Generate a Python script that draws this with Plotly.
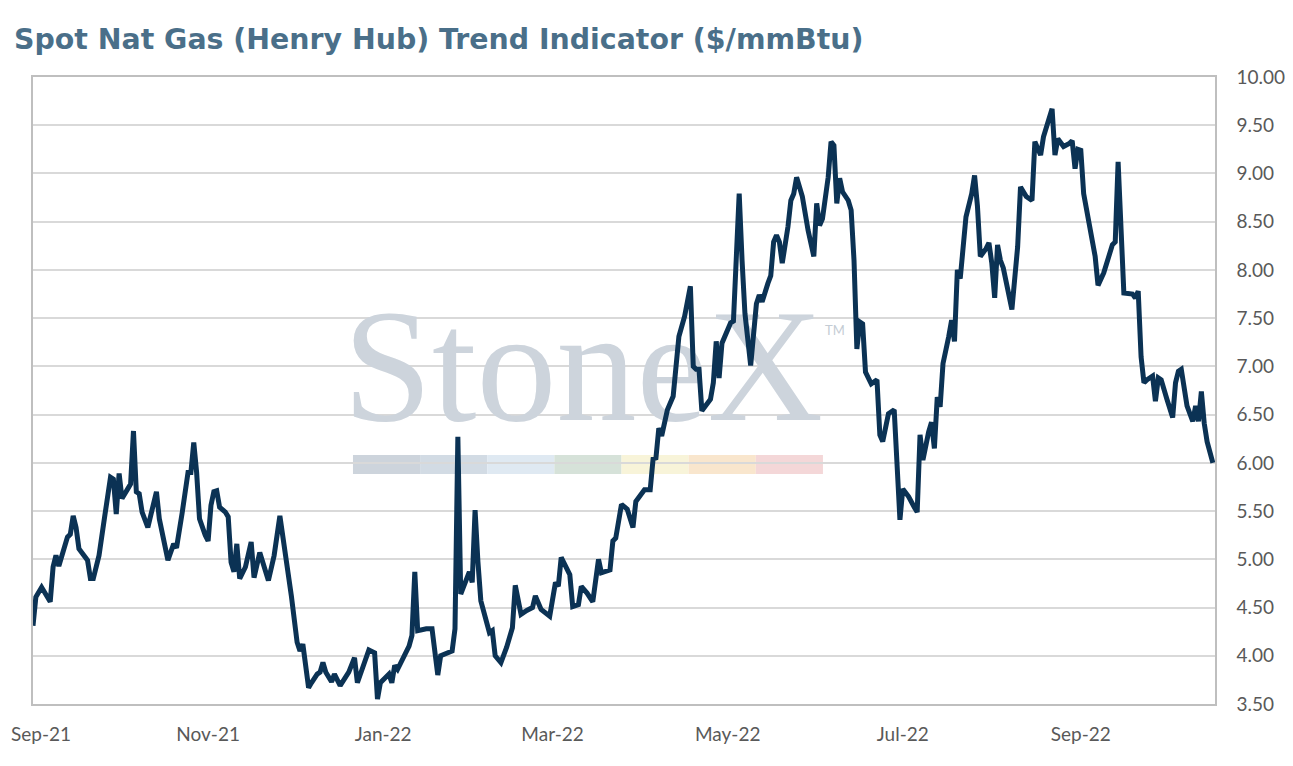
import plotly.graph_objects as go

# Henry Hub spot ($/mmBtu)
dates = [
    "2021-09-01", "2021-09-02", "2021-09-04", "2021-09-07", "2021-09-08", "2021-09-09", "2021-09-10",
    "2021-09-13", "2021-09-14", "2021-09-15", "2021-09-16", "2021-09-17", "2021-09-20", "2021-09-21",
    "2021-09-22", "2021-09-24", "2021-09-26", "2021-09-28", "2021-09-29", "2021-09-30", "2021-10-01",
    "2021-10-02", "2021-10-04", "2021-10-05", "2021-10-06", "2021-10-07", "2021-10-08", "2021-10-09",
    "2021-10-11", "2021-10-13", "2021-10-14", "2021-10-15", "2021-10-17", "2021-10-18", "2021-10-20",
    "2021-10-21", "2021-10-23", "2021-10-25", "2021-10-26", "2021-10-27", "2021-10-28", "2021-10-29",
    "2021-10-31", "2021-11-01", "2021-11-02", "2021-11-03", "2021-11-04", "2021-11-05", "2021-11-07",
    "2021-11-08", "2021-11-09", "2021-11-10", "2021-11-11", "2021-11-12", "2021-11-14", "2021-11-16",
    "2021-11-17", "2021-11-19", "2021-11-22", "2021-11-24", "2021-11-26", "2021-11-28", "2021-11-30",
    "2021-12-02", "2021-12-03", "2021-12-04", "2021-12-06", "2021-12-07", "2021-12-09", "2021-12-10",
    "2021-12-11", "2021-12-12", "2021-12-14", "2021-12-15", "2021-12-17", "2021-12-20", "2021-12-22",
    "2021-12-23", "2021-12-25", "2021-12-27", "2021-12-29", "2021-12-30", "2021-12-31", "2022-01-02",
    "2022-01-03", "2022-01-04", "2022-01-05", "2022-01-06", "2022-01-08", "2022-01-10", "2022-01-11",
    "2022-01-12", "2022-01-13", "2022-01-16", "2022-01-18", "2022-01-20", "2022-01-21", "2022-01-23",
    "2022-01-25", "2022-01-26", "2022-01-27", "2022-01-28", "2022-01-29", "2022-01-31", "2022-02-01",
    "2022-02-02", "2022-02-03", "2022-02-04", "2022-02-07", "2022-02-08", "2022-02-09", "2022-02-11",
    "2022-02-13", "2022-02-15", "2022-02-16", "2022-02-18", "2022-02-20", "2022-02-22", "2022-02-23",
    "2022-02-25", "2022-02-28", "2022-03-02", "2022-03-03", "2022-03-04", "2022-03-07", "2022-03-08",
    "2022-03-10", "2022-03-11", "2022-03-13", "2022-03-15", "2022-03-17", "2022-03-18", "2022-03-21",
    "2022-03-22", "2022-03-23", "2022-03-25", "2022-03-27", "2022-03-29", "2022-03-30", "2022-04-02",
    "2022-04-04", "2022-04-05", "2022-04-06", "2022-04-07", "2022-04-08", "2022-04-10", "2022-04-12",
    "2022-04-14", "2022-04-16", "2022-04-18", "2022-04-19", "2022-04-20", "2022-04-21", "2022-04-22",
    "2022-04-25", "2022-04-26", "2022-04-27", "2022-04-28", "2022-04-29", "2022-05-02", "2022-05-03",
    "2022-05-05", "2022-05-06", "2022-05-07", "2022-05-09", "2022-05-11", "2022-05-12", "2022-05-13",
    "2022-05-15", "2022-05-16", "2022-05-17", "2022-05-18", "2022-05-19", "2022-05-20", "2022-05-22",
    "2022-05-23", "2022-05-24", "2022-05-25", "2022-05-27", "2022-05-29", "2022-05-31", "2022-06-01",
    "2022-06-02", "2022-06-03", "2022-06-05", "2022-06-06", "2022-06-07", "2022-06-08", "2022-06-09",
    "2022-06-10", "2022-06-12", "2022-06-13", "2022-06-14", "2022-06-15", "2022-06-16", "2022-06-17",
    "2022-06-18", "2022-06-19", "2022-06-20", "2022-06-22", "2022-06-23", "2022-06-24", "2022-06-26",
    "2022-06-28", "2022-06-29", "2022-06-30", "2022-07-01", "2022-07-03", "2022-07-05", "2022-07-06",
    "2022-07-07", "2022-07-08", "2022-07-10", "2022-07-11", "2022-07-12", "2022-07-13", "2022-07-14",
    "2022-07-15", "2022-07-17", "2022-07-18", "2022-07-19", "2022-07-20", "2022-07-21", "2022-07-22",
    "2022-07-23", "2022-07-25", "2022-07-26", "2022-07-27", "2022-07-28", "2022-07-30", "2022-07-31",
    "2022-08-01", "2022-08-02", "2022-08-03", "2022-08-04", "2022-08-05", "2022-08-08", "2022-08-10",
    "2022-08-11", "2022-08-13", "2022-08-15", "2022-08-16", "2022-08-17", "2022-08-18", "2022-08-19",
    "2022-08-22", "2022-08-23", "2022-08-24", "2022-08-26", "2022-08-28", "2022-08-29", "2022-08-30",
    "2022-08-31", "2022-09-01", "2022-09-02", "2022-09-04", "2022-09-06", "2022-09-07", "2022-09-09",
    "2022-09-12", "2022-09-13", "2022-09-14", "2022-09-15", "2022-09-16", "2022-09-19", "2022-09-20",
    "2022-09-21", "2022-09-22", "2022-09-23", "2022-09-24", "2022-09-26", "2022-09-27", "2022-09-28",
    "2022-09-29", "2022-10-01", "2022-10-03", "2022-10-04", "2022-10-05", "2022-10-06", "2022-10-07",
    "2022-10-08", "2022-10-10", "2022-10-11", "2022-10-12", "2022-10-13", "2022-10-14", "2022-10-15",
    "2022-10-17",
]

price = [
    4.31, 4.61, 4.71, 4.56, 4.92, 5.04, 4.93,
    5.23, 5.26, 5.45, 5.33, 5.11, 4.99, 4.80,
    4.80, 5.04, 5.45, 5.85, 5.83, 5.47, 5.89,
    5.63, 5.73, 5.78, 6.33, 5.70, 5.68, 5.49,
    5.33, 5.56, 5.70, 5.42, 5.14, 4.99, 5.16,
    5.12, 5.49, 5.90, 5.90, 6.21, 5.90, 5.42,
    5.25, 5.19, 5.56, 5.70, 5.71, 5.54, 5.49,
    5.44, 4.97, 4.87, 5.16, 4.80, 4.92, 5.18,
    4.81, 5.07, 4.78, 5.04, 5.45, 5.07, 4.62,
    4.14, 4.05, 4.12, 3.67, 3.72, 3.81, 3.83,
    3.93, 3.83, 3.73, 3.81, 3.69, 3.83, 3.98,
    3.72, 3.90, 4.06, 4.03, 3.55, 3.72, 3.79,
    3.81, 3.72, 3.90, 3.86, 3.98, 4.10, 4.21,
    4.87, 4.26, 4.28, 4.28, 3.80, 4.00, 4.02,
    4.05, 4.28, 6.27, 4.64, 4.71, 4.87, 4.76,
    5.51, 4.97, 4.57, 4.24, 4.26, 4.00, 3.93,
    4.09, 4.29, 4.73, 4.43, 4.47, 4.50, 4.62,
    4.48, 4.41, 4.76, 4.72, 5.02, 4.84, 4.51,
    4.53, 4.72, 4.65, 4.56, 5.00, 4.86, 4.89,
    5.19, 5.22, 5.57, 5.52, 5.33, 5.60, 5.72,
    5.72, 6.04, 6.05, 6.36, 6.28, 6.55, 6.69,
    7.31, 7.52, 7.83, 7.00, 6.97, 6.97, 6.54,
    6.66, 6.83, 7.26, 6.88, 7.24, 7.45, 7.47,
    8.79, 8.10, 7.55, 7.01, 7.65, 7.74, 7.67,
    7.86, 7.94, 8.29, 8.36, 8.29, 8.07, 8.45,
    8.72, 8.79, 8.96, 8.76, 8.41, 8.14, 8.69,
    8.46, 8.53, 8.96, 9.33, 9.29, 8.69, 8.95,
    8.81, 8.72, 8.62, 8.10, 7.18, 7.46, 7.44,
    6.94, 6.89, 6.82, 6.86, 6.29, 6.22, 6.51,
    6.55, 5.92, 5.41, 5.73, 5.65, 5.54, 5.49,
    6.29, 6.03, 6.32, 6.42, 6.15, 6.68, 6.58,
    7.03, 7.31, 7.48, 7.26, 8.00, 7.91, 8.29,
    8.55, 8.79, 8.98, 8.66, 8.14, 8.22, 8.28,
    8.07, 7.71, 8.26, 8.10, 8.02, 7.59, 8.24,
    8.86, 8.76, 8.72, 9.33, 9.26, 9.19, 9.38,
    9.67, 9.19, 9.36, 9.28, 9.31, 9.34, 9.05,
    9.25, 9.24, 8.79, 8.48, 8.14, 7.84, 7.97,
    8.26, 8.29, 9.12, 8.34, 7.76, 7.75, 7.71,
    7.78, 7.10, 6.83, 6.86, 6.90, 6.64, 6.88,
    6.86, 6.66, 6.47, 6.83, 6.95, 6.97, 6.74,
    6.59, 6.43, 6.59, 6.43, 6.74, 6.41, 6.22,
    6.00,
]

# x ticks every two months; the first label sits on the left edge and is drawn separately
tick_vals = ["2021-09-01", "2021-11-01", "2022-01-01", "2022-03-01", "2022-05-01", "2022-07-01", "2022-09-01"]
tick_text = ["", "Nov-21", "Jan-22", "Mar-22", "May-22", "Jul-22", "Sep-22"]
first_tick_label = "Sep-21"

x_range = ["2021-09-01", "2022-10-17 18:00"]
y_range = [3.5, 10.0]

# StoneX watermark colour strip
strip_colors = ["#cdd4dc", "#d2dbe4", "#dfe9f2", "#d6e2d9", "#f8f4d9", "#f9e6cd", "#f4d7d8"]

TITLE_COLOR = "#4a6f89"
TICK_COLOR = "#595959"
GRID_COLOR = "#d9d9d9"
BORDER_COLOR = "#bfbfbf"
LINE_COLOR = "#0b3254"
TICK_FONT = dict(family="Lato, sans-serif", size=19, color=TICK_COLOR)

fig = go.Figure()

# watermark text as a trace so the price line sits on top of it
fig.add_trace(go.Scatter(
    x=["2022-03-11 14:00"], y=[6.86], mode="text", text=["StoneX"],
    textposition="middle center",
    textfont=dict(family="Liberation Serif, Times New Roman, serif", size=160, color="#cdd4dc"),
    hoverinfo="skip", showlegend=False,
))

fig.add_trace(go.Scatter(
    x=dates, y=price, mode="lines",
    line=dict(color=LINE_COLOR, width=5),
    showlegend=False, name="Henry Hub",
))

seg_w = 0.0568
x_start = 0.2707
for i, c in enumerate(strip_colors):
    fig.add_shape(type="rect", xref="paper", yref="paper",
                  x0=x_start + i * seg_w, x1=x_start + (i + 1) * seg_w,
                  y0=0.3668, y1=0.3971, fillcolor=c, line_width=0, layer="below")

fig.add_annotation(text="TM", xref="paper", yref="paper", x=0.689, y=0.5965,
                   showarrow=False, font=dict(family="Lato, sans-serif", size=13, color="#c4ccd4"))

fig.add_annotation(text=first_tick_label, xref="paper", yref="paper", x=-0.0203, y=-0.0463,
                   xanchor="left", yanchor="middle", showarrow=False, font=TICK_FONT)

# page has an 8px body margin, so the figure is kept 16px smaller than the window
fig.update_layout(
    width=1277, height=750,
    margin=dict(l=25, r=70, t=69, b=54, autoexpand=False),
    paper_bgcolor="white", plot_bgcolor="white",
    title=dict(text="Spot Nat Gas (Henry Hub) Trend Indicator ($/mmBtu)",
               x=0.0047, xanchor="left", y=0.9587, yanchor="middle", yref="container",
               font=dict(family="DejaVu Sans, sans-serif", size=28.4, weight="bold", color=TITLE_COLOR)),
    font=TICK_FONT,
)

fig.update_xaxes(
    type="date", range=x_range, tickvals=tick_vals, ticktext=tick_text,
    showgrid=False, showline=True, linecolor=BORDER_COLOR, linewidth=1.5, mirror=True,
    ticks="", ticklabelstandoff=12, zeroline=False,
    automargin=False, tickfont=TICK_FONT,
)
fig.update_yaxes(
    range=y_range, dtick=0.5, tickformat=".2f", side="right",
    showgrid=True, gridcolor=GRID_COLOR, gridwidth=1.5,
    showline=True, linecolor=BORDER_COLOR, linewidth=1.5, mirror=True,
    ticks="", ticklabelstandoff=16, zeroline=False, automargin=False, tickfont=TICK_FONT,
)

fig.write_html("out.html")
